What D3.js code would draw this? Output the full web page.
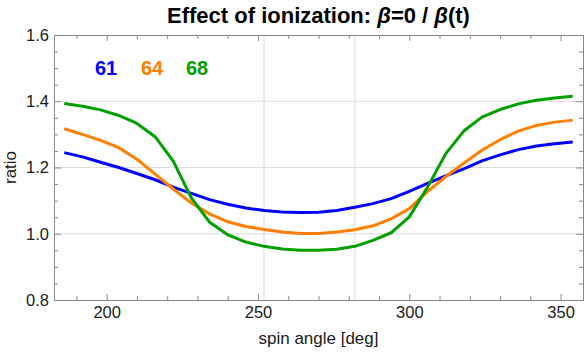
<!DOCTYPE html>
<html>
<head>
<meta charset="utf-8">
<script src="https://cdn.jsdelivr.net/npm/d3@7"></script>
<style>
  body { margin: 0; background: #fff; }
  svg { display: block; font-family: "Liberation Sans", Arial, sans-serif; }
</style>
</head>
<body>
<div id="chart"></div>
<script>
// spin angle bins
const angles = [186,192,198,204,210,216,222,228,234,240,246,252,258,264,270,276,282,288,294,300,306,312,318,324,330,336,342,348,354];

const ratio61 = [1.245,1.232,1.216,1.200,1.182,1.163,1.141,1.122,1.103,1.089,1.078,1.070,1.066,1.064,1.065,1.070,1.080,1.091,1.106,1.128,1.152,1.175,1.196,1.220,1.238,1.254,1.265,1.272,1.277];
const ratio64 = [1.317,1.300,1.282,1.260,1.225,1.180,1.135,1.093,1.060,1.036,1.022,1.013,1.005,1.001,1.001,1.005,1.012,1.024,1.045,1.076,1.127,1.172,1.213,1.252,1.284,1.310,1.327,1.337,1.343];
const ratio68 = [1.393,1.385,1.374,1.357,1.333,1.293,1.219,1.108,1.035,0.997,0.975,0.962,0.954,0.950,0.950,0.953,0.962,0.980,1.003,1.051,1.140,1.241,1.310,1.352,1.375,1.392,1.403,1.410,1.415];

const seriesNames = ["61", "64", "68"];
const seriesColors = ["#0000ff", "#ff8000", "#00a000"];

const xTicks = [200, 250, 300, 350];
const xMinor = [190,210,220,230,240,260,270,280,290,310,320,330,340];
const yTicks = [0.8, 1.0, 1.2, 1.4, 1.6];
const yMinor = [0.85,0.9,0.95,1.05,1.1,1.15,1.25,1.3,1.35,1.45,1.5,1.55];
const gridX = [252, 282];
const gridY = [1.0, 1.2, 1.4];

const w = 584, h = 352;
const pL = 54, pR = 583, pT = 35, pB = 300;

const svg = d3.select('#chart').append('svg')
  .attr('width', w).attr('height', h);

const x = d3.scaleLinear().domain([182.6, 357.4]).range([pL, pR]);
const y = d3.scaleLinear().domain([0.8, 1.6]).range([pB, pT]);

// grid
svg.append('g').selectAll('line').data(gridY).enter().append('line')
  .attr('x1', pL).attr('x2', pR)
  .attr('y1', d => y(d)).attr('y2', d => y(d))
  .attr('stroke', '#dcdcdc').attr('stroke-width', 1);
svg.append('g').selectAll('line').data(gridX).enter().append('line')
  .attr('y1', pT).attr('y2', pB)
  .attr('x1', d => x(d)).attr('x2', d => x(d))
  .attr('stroke', '#dcdcdc').attr('stroke-width', 1);

// curves
const series = [ratio61, ratio64, ratio68];
const line = d3.line().x((d, i) => x(angles[i])).y(d => y(d));
svg.append('g').selectAll('path').data(series).enter().append('path')
  .attr('d', line)
  .attr('fill', 'none')
  .attr('stroke', (d, i) => seriesColors[i])
  .attr('stroke-width', 3)
  .attr('stroke-linejoin', 'round');

// frame axes, ticks pointing inward
const frame = '#8a8a8a';
const axB = d3.axisBottom(x).tickValues(xTicks).tickSize(-6).tickPadding(6).tickFormat(d3.format('d'));
const axBm = d3.axisBottom(x).tickValues(xMinor).tickSize(-4).tickFormat('');
const axT = d3.axisTop(x).tickValues(xTicks).tickSize(-6).tickFormat('');
const axTm = d3.axisTop(x).tickValues(xMinor).tickSize(-4).tickFormat('');
const axL = d3.axisLeft(y).tickValues(yTicks).tickSize(-7).tickPadding(5).tickFormat(d3.format('.1f'));
const axLm = d3.axisLeft(y).tickValues(yMinor).tickSize(-4).tickFormat('');
const axR = d3.axisRight(y).tickValues(yTicks).tickSize(-7).tickFormat('');
const axRm = d3.axisRight(y).tickValues(yMinor).tickSize(-4).tickFormat('');

[[axB, `translate(0,${pB})`], [axBm, `translate(0,${pB})`],
 [axT, `translate(0,${pT})`], [axTm, `translate(0,${pT})`],
 [axL, `translate(${pL},0)`], [axLm, `translate(${pL},0)`],
 [axR, `translate(${pR},0)`], [axRm, `translate(${pR},0)`]].forEach(a => {
  const g = svg.append('g').attr('transform', a[1]).call(a[0]);
  g.select('.domain').attr('stroke', frame);
  g.selectAll('.tick line').attr('stroke', frame);
  g.selectAll('.tick text').attr('fill', '#1a1a1a').style('font-size', '16.5px')
    .style('font-family', '"Liberation Sans", Arial, sans-serif');
});

// axis labels
svg.append('text')
  .attr('x', (pL + pR) / 2).attr('y', 344)
  .attr('text-anchor', 'middle').style('font-size', '17px').attr('fill', '#1a1a1a')
  .text('spin angle [deg]');
svg.append('text')
  .attr('transform', `translate(16,${(pT + pB) / 2}) rotate(-90)`)
  .attr('text-anchor', 'middle').style('font-size', '17px').attr('fill', '#1a1a1a')
  .text('ratio');

// title
const title = svg.append('text')
  .attr('x', (pL + pR) / 2).attr('y', 23)
  .attr('text-anchor', 'middle').style('font-size', '22px').style('font-weight', 'bold')
  .attr('fill', '#000');
title.append('tspan').text('Effect of ionization: ');
title.append('tspan').style('font-style', 'italic').text('β');
title.append('tspan').text('=0 / ');
title.append('tspan').style('font-style', 'italic').text('β');
title.append('tspan').text('(t)');

// series labels
const labelX = [106, 152, 197];
svg.append('g').selectAll('text').data(seriesNames).enter().append('text')
  .attr('x', (d, i) => labelX[i]).attr('y', 75)
  .attr('text-anchor', 'middle')
  .style('font-size', '20px').style('font-weight', 'bold')
  .attr('fill', (d, i) => seriesColors[i])
  .text(d => d);
</script>
</body>
</html>
